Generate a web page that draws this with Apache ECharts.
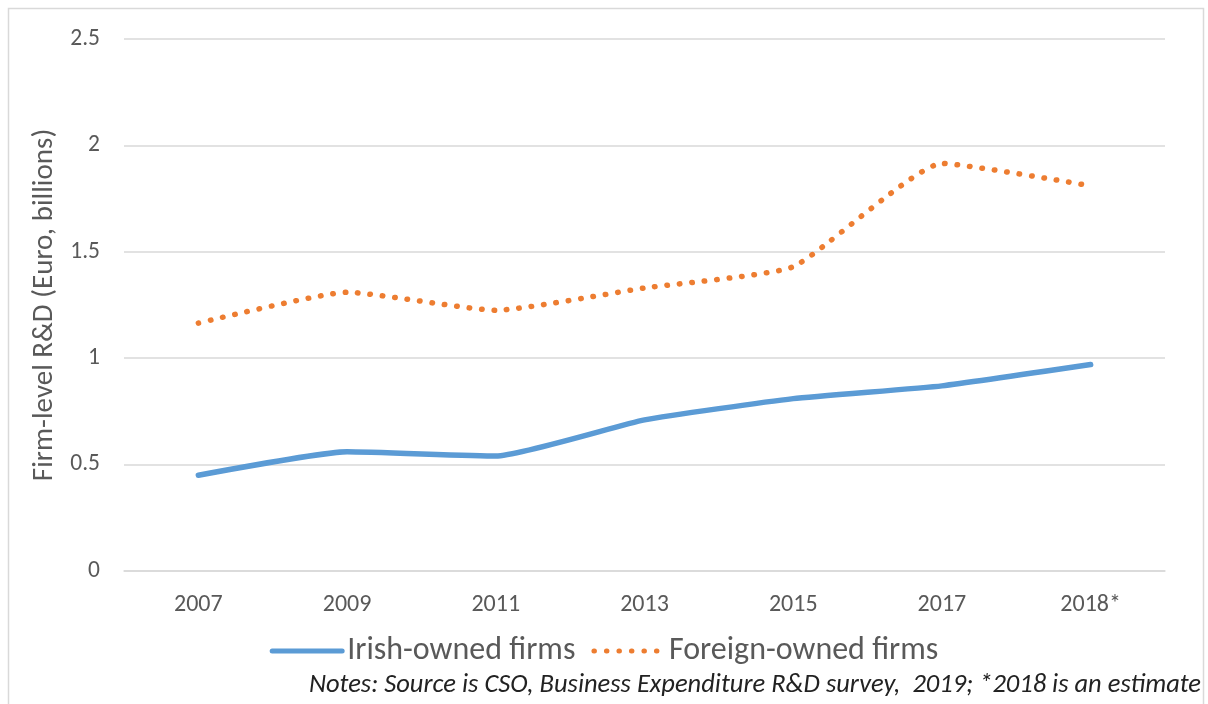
<!DOCTYPE html>
<html>
<head>
<meta charset="utf-8">
<script src="https://cdn.jsdelivr.net/npm/echarts@6/dist/echarts.min.js"></script>
<style>
  html, body { margin: 0; padding: 0; background: #fff; }
  #chart { width: 1208px; height: 704px; }
</style>
</head>
<body>
<div id="chart"></div>
<script>
// Firm-level R&D, Irish vs foreign-owned firms

const years = ['2007', '2009', '2011', '2013', '2015', '2017', '2018*'];
const irishOwned = [0.45, 0.56, 0.54, 0.71, 0.81, 0.87, 0.97];
const foreignOwned = [1.165, 1.31, 1.225, 1.33, 1.43, 1.915, 1.81];
const yTicks = [0, 0.5, 1, 1.5, 2, 2.5];

const chart = echarts.init(document.getElementById('chart'));
const font = 'Carlito, "Liberation Sans Narrow", "Open Sans", sans-serif';

const option = {
  animation: false,
  textStyle: { fontFamily: font },
  grid: { left: 124, right: 43, top: 39, bottom: 133 },
  graphic: [
    {
      type: 'rect',
      shape: { x: 8.5, y: 8.5, width: 1195, height: 720 },
      style: { fill: 'none', stroke: '#d9d9d9', lineWidth: 1.5 },
      silent: true
    },
    {
      type: 'text',
      right: 7,
      top: 672,
      style: {
        text: 'Notes: Source is CSO, Business Expenditure R&D survey,  2019; *2018 is an estimate',
        font: 'italic 26.5px ' + font,
        fill: '#222'
      }
    }
  ],
  legend: {
    bottom: 32,
    left: 'center',
    itemWidth: 70,
    itemHeight: 14,
    itemGap: 16,
    itemStyle: { opacity: 0 },
    lineStyle: { width: 5 },
    textStyle: { fontSize: 32, color: '#595959', fontFamily: font },
    data: ['Irish-owned firms', 'Foreign-owned firms']
  },
  xAxis: {
    type: 'category',
    data: years,
    boundaryGap: true,
    axisLine: { lineStyle: { color: '#d9d9d9', width: 1.5 } },
    axisTick: { show: false },
    axisLabel: { fontSize: 24, color: '#595959', margin: 22 }
  },
  yAxis: {
    type: 'value',
    min: 0,
    max: 2.5,
    interval: 0.5,
    name: 'Firm-level R&D (Euro, billions)',
    nameLocation: 'middle',
    nameGap: 61,
    nameTextStyle: { fontSize: 29, color: '#595959' },
    axisLine: { show: false },
    axisTick: { show: false },
    axisLabel: {
      fontSize: 23.5,
      color: '#595959',
      margin: 24,
      formatter: v => (yTicks.includes(v) ? String(v) : '')
    },
    splitLine: { lineStyle: { color: '#d9d9d9', width: 1.5 } }
  },
  series: [
    {
      name: 'Irish-owned firms',
      type: 'line',
      data: irishOwned,
      smooth: 0.15,
      symbol: 'none',
      color: '#5b9bd5',
      lineStyle: { width: 5.5, cap: 'round' }
    },
    {
      name: 'Foreign-owned firms',
      type: 'line',
      data: foreignOwned,
      smooth: 0.15,
      symbol: 'none',
      color: '#ed7d31',
      lineStyle: { width: 5.5, type: [0.5, 12], cap: 'round' }
    }
  ]
};

chart.setOption(option);
</script>
</body>
</html>
